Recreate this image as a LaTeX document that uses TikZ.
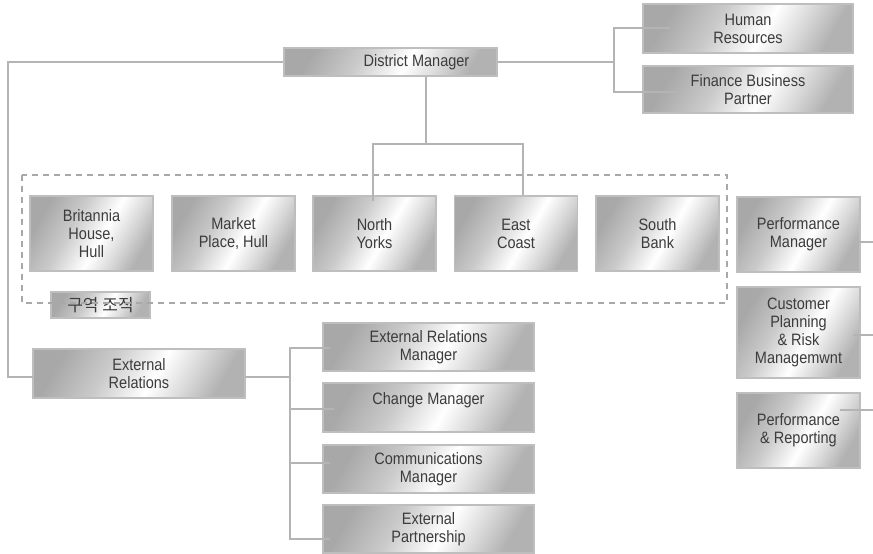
\documentclass[tikz,border=0pt]{standalone}
\usepackage{fontspec}
\setmainfont{Liberation Sans}[FakeStretch=0.88]
\newfontfamily\krfont{Noto Sans CJK KR}
\usetikzlibrary{calc}

\definecolor{lineg}{HTML}{B4B4B4}
\definecolor{edgeg}{HTML}{BEBEBE}
\definecolor{dashg}{HTML}{A8A8A8}
\definecolor{metdark}{HTML}{A8A8A8}
\definecolor{metmid}{HTML}{CACACA}
\definecolor{metlite}{HTML}{DADADA}
\definecolor{metend}{HTML}{B2B2B2}
\definecolor{txtg}{HTML}{3C3C3C}

% brushed-metal look of the boxes
\pgfdeclarehorizontalshading{metal}{100bp}{%
  color(0bp)=(metdark); color(25bp)=(metdark); color(40bp)=(metmid);
  color(55bp)=(white); color(65bp)=(metlite); color(75bp)=(metend);
  color(100bp)=(metend)}

\tikzset{
  orgbox/.style={draw=edgeg, line width=1.5pt, shading=metal, shading angle=-30,
    text=txtg, align=center, inner sep=0pt,
    font=\fontsize{16.5}{18}\selectfont},
  wide/.style={orgbox, minimum width=211pt, minimum height=48pt},
  unit/.style={orgbox, minimum width=123pt, minimum height=75pt},
  link/.style={draw=lineg, line width=2pt},
  zone/.style={draw=dashg, line width=1.5pt, dash pattern=on 6pt off 5pt}
}

\begin{document}
\begin{tikzpicture}[x=1pt, y=-1pt]
\useasboundingbox (0,0) rectangle (873,554);

% top level
\node[orgbox, minimum width=213pt, minimum height=28pt] (dm) at (390.5,62)
  {\hspace*{52pt}District Manager};
\node[wide, minimum width=210pt, minimum height=49pt] (hr) at (748,28.5) {Human\\Resources};
\node[wide, minimum width=210pt, minimum height=47pt] (fbp) at (748,89.5) {Finance Business\\Partner};

% district units
\node[orgbox, minimum width=99pt, minimum height=26pt,
  font=\krfont\fontsize{17}{19}\selectfont] (kr) at (100.5,305) {구역 조직};
\node[unit] (brit)  at (91.5,233.5)  {Britannia\\House,\\Hull};
\node[unit] (mkt)   at (233.5,233.5) {Market\\Place, Hull};
\node[unit] (north) at (374.5,233.5) {North\\Yorks};
\node[unit] (east)  at (516,233.5)   {East\\Coast};
\node[unit] (south) at (657.5,233.5) {South\\Bank};
\draw[zone] (22,175) rectangle (727,303);

% right column
\node[unit] (pm)   at (798.5,234.5) {Performance\\Manager};
\node[unit, minimum height=91pt] (cprm) at (798.5,332.5)
  {Customer\\Planning\\\& Risk\\Managemwnt};
\node[unit] (pr)   at (798.5,430.5) {Performance\\\& Reporting};

% external relations branch
\node[wide, minimum width=212pt, minimum height=49pt] (er) at (139,373.5) {External\\Relations};
\node[wide] (erm)  at (428.5,347)   {External Relations\\Manager};
\node[wide, minimum height=49pt] (cm) at (428.5,407.5) {Change Manager\\[0pt]\mbox{}};
\node[wide] (comm) at (428.5,469)   {Communications\\Manager};
\node[wide] (ep)   at (428.5,529)   {External\\Partnership};

% bus positions and stub ends
\coordinate (hx) at (614,0);
\coordinate (lx) at (8,0);
\coordinate (ex) at (290,0);
\coordinate (split) at (426,144);
\coordinate (hr-in)  at (670,28);
\coordinate (fbp-in) at (682,92);
\coordinate (er-l)   at (33,377);
\coordinate (er-r)   at (245,377);
\coordinate (erm-in)  at (330,348);
\coordinate (cm-in)   at (334,409);
\coordinate (comm-in) at (330,463);
\coordinate (ep-in)   at (330,539);
\coordinate (pm-in)   at (853,242);
\coordinate (cprm-in) at (853,335);
\coordinate (pr-in)   at (840,410);
\coordinate (pm-out)   at (873,242);
\coordinate (cprm-out) at (873,335);
\coordinate (pr-out)   at (873,410);

% connectors
\draw[link] (dm.east) -- (hx |- dm.east);
\draw[link] (hr-in) -- (hx |- hr-in) -- (hx |- fbp-in) -- (fbp-in);
\draw[link] (dm.west) -- (lx |- dm.west) -- (lx |- er-l) -- (er-l);
\draw[link] (dm.south -| split) -- (split);
\draw[link] ($(north.north)+(-1.5,6)$) |- (split) -| ($(east.north)+(7,0)$);
\draw[link] (er-r) -- (ex |- er-r);
\draw[link] (erm-in) -- (ex |- erm-in) -- (ex |- ep-in) -- (ep-in);
\draw[link] (cm-in) -- (ex |- cm-in);
\draw[link] (comm-in) -- (ex |- comm-in);
\draw[link] (pm-in) -- (pm-out);
\draw[link] (cprm-in) -- (cprm-out);
\draw[link] (pr-in) -- (pr-out);
\end{tikzpicture}
\end{document}
